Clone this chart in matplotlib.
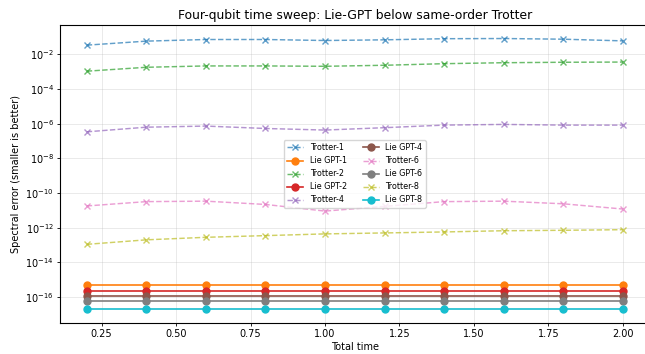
import matplotlib
matplotlib.use("Agg")
import matplotlib.pyplot as plt

# total time sweep
times = [0.2, 0.4, 0.6, 0.8, 1.0, 1.2, 1.4, 1.6, 1.8, 2.0]
x_ticks = [0.25, 0.50, 0.75, 1.00, 1.25, 1.50, 1.75, 2.00]
y_ticks = [1e-16, 1e-14, 1e-12, 1e-10, 1e-8, 1e-6, 1e-4, 1e-2]

# spectral errors
trotter_1 = [3.4e-2, 5.8e-2, 7.2e-2, 7.2e-2, 6.3e-2, 6.9e-2, 8.0e-2, 8.2e-2, 7.5e-2, 6.0e-2]
trotter_2 = [1.07e-3, 1.8e-3, 2.15e-3, 2.15e-3, 2.05e-3, 2.35e-3, 2.9e-3, 3.3e-3, 3.5e-3, 3.6e-3]
trotter_4 = [3.4e-7, 6.3e-7, 7.3e-7, 5.3e-7, 4.3e-7, 5.9e-7, 8.3e-7, 9.1e-7, 8.3e-7, 8.3e-7]
trotter_6 = [1.8e-11, 3.2e-11, 3.4e-11, 2.2e-11, 9.1e-12, 1.7e-11, 3.2e-11, 3.4e-11, 2.4e-11, 1.2e-11]
trotter_8 = [1.1e-13, 2.0e-13, 2.8e-13, 3.5e-13, 4.4e-13, 5.0e-13, 5.7e-13, 6.7e-13, 7.1e-13, 7.7e-13]

lie_gpt_1 = [5.1e-16] * 10
lie_gpt_2 = [2.2e-16] * 10
lie_gpt_4 = [1.1e-16] * 10
lie_gpt_6 = [5.6e-17] * 10
lie_gpt_8 = [2.0e-17] * 10

orders = [1, 2, 4, 6, 8]
trotter = [trotter_1, trotter_2, trotter_4, trotter_6, trotter_8]
lie_gpt = [lie_gpt_1, lie_gpt_2, lie_gpt_4, lie_gpt_6, lie_gpt_8]

fig = plt.figure(figsize=(6.45, 3.54), dpi=100)
ax = fig.add_axes([0.093, 0.0884, 0.914, 0.841])

for k, tr, lg in zip(orders, trotter, lie_gpt):
    ax.plot(times, tr, linestyle="--", marker="x", markersize=4.8,
            linewidth=1.05, alpha=0.7, label=f"Trotter-{k}")
    ax.plot(times, lg, linestyle="-", marker="o", markersize=5,
            linewidth=1.2, label=f"Lie GPT-{k}")

ax.set_yscale("log")
ax.set_xticks(x_ticks)
ax.set_yticks(y_ticks)
ax.minorticks_off()
ax.grid(True, alpha=0.3, linewidth=0.6)
ax.set_xlabel("Total time", fontsize=7, labelpad=2)
ax.set_ylabel("Spectral error (smaller is better)", fontsize=7, labelpad=3)
ax.set_title("Four-qubit time sweep: Lie-GPT below same-order Trotter", fontsize=8.9, pad=4)
ax.tick_params(labelsize=7, width=0.6, length=2.5, pad=2)
for s in ax.spines.values():
    s.set_linewidth(0.8)
ax.legend(loc="center", ncol=2, fontsize=5.8, framealpha=0.8)

fig.savefig("out.png", dpi=100)
